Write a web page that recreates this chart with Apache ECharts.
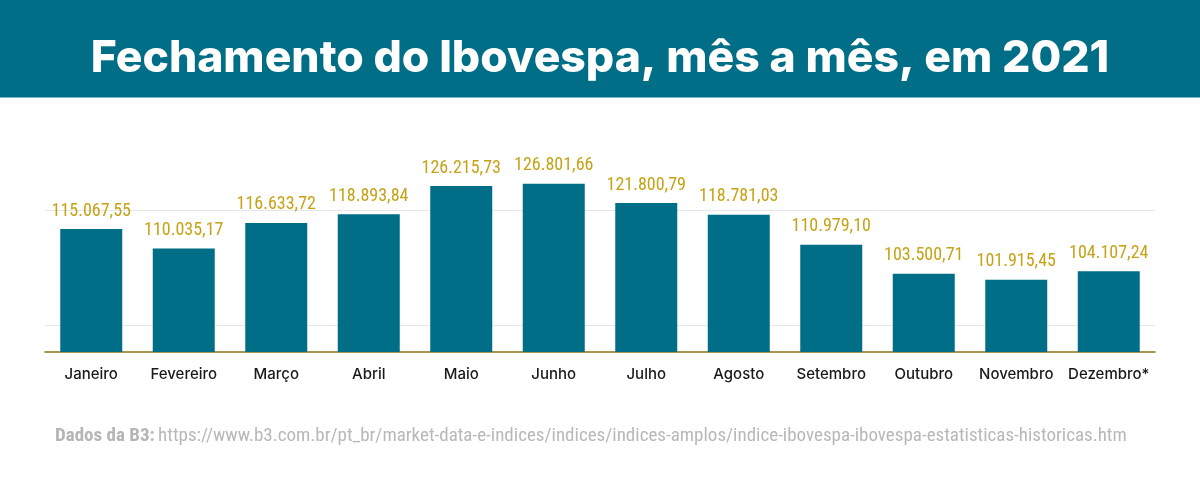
<!DOCTYPE html>
<html>
<head>
<meta charset="utf-8">
<script src="https://cdn.jsdelivr.net/npm/echarts@6/dist/echarts.min.js"></script>
<style>
html,body{margin:0;padding:0;background:#fff;}
#chart{width:1200px;height:490px;}
</style>
</head>
<body>
<div id="chart"></div>
<script>
const categories = ['Janeiro','Fevereiro','Março','Abril','Maio','Junho','Julho','Agosto','Setembro','Outubro','Novembro','Dezembro*'];
const values = [115067.55,110035.17,116633.72,118893.84,126215.73,126801.66,121800.79,118781.03,110979.10,103500.71,101915.45,104107.24];
const gridValues = [90000,120000];
const titleText = 'Fechamento do Ibovespa, mês a mês, em 2021';
const sourceLabel = 'Dados da B3:';
const sourceUrl = 'https://www.b3.com.br/pt_br/market-data-e-indices/indices/indices-amplos/indice-ibovespa-ibovespa-estatisticas-historicas.htm';

function fmt(v){
  const parts = v.toFixed(2).split('.');
  const intp = parts[0].replace(/\B(?=(\d{3})+(?!\d))/g,'.');
  return intp + ',' + parts[1];
}

const chart = echarts.init(document.getElementById('chart'));
const narrow = '"Roboto Condensed", Roboto, sans-serif';
chart.setOption({
  animation:false,
  backgroundColor:'#ffffff',
  graphic:[
    {type:'rect',left:0,top:0,shape:{width:1200,height:97},style:{fill:'#006e87'},z:0},
    {type:'rect',left:0,top:97,shape:{width:1200,height:1},style:{fill:'#7fb3c2'},z:0},
    {type:'text',left:'center',top:36,z:10,style:{text:titleText,fill:'#ffffff',font:'800 44.5px Inter, "Open Sans", sans-serif'}},
    {type:'text',left:55,top:427,z:10,style:{
      text:'{b|'+sourceLabel+'} {u|'+sourceUrl+'}',
      fill:'#b8b8b8',
      rich:{
        b:{fontFamily:narrow,fontWeight:'bold',fontSize:19,fill:'#b5b5b5'},
        u:{fontFamily:narrow,fontSize:19,fill:'#b8b8b8'}
      }
    }}
  ],
  grid:{left:45,right:45,top:94.3,bottom:138,containLabel:false},
  xAxis:{
    type:'category',
    data:categories,
    axisLine:{lineStyle:{color:'#8b7316',width:1.5}},
    axisTick:{show:false},
    axisLabel:{interval:0,color:'#1a1a1a',fontFamily:'Inter, sans-serif',fontWeight:500,fontSize:15,margin:15}
  },
  yAxis:{
    type:'value',min:83180,max:150000,
    axisLabel:{show:false},axisLine:{show:false},axisTick:{show:false},splitLine:{show:false}
  },
  series:[{
    type:'bar',
    data:values,
    barWidth:62,
    itemStyle:{color:'#006e87'},
    label:{show:true,position:'top',distance:9,color:'#c6a216',fontFamily:narrow,fontSize:18,formatter:p=>fmt(p.value)},
    markLine:{
      silent:true,symbol:['none','none'],
      label:{show:false},
      lineStyle:{color:'#e6e6e6',width:1,type:'solid'},
      data:gridValues.map(v=>({yAxis:v})),
      z:1
    },
    z:2
  }]
});
</script>
</body>
</html>
